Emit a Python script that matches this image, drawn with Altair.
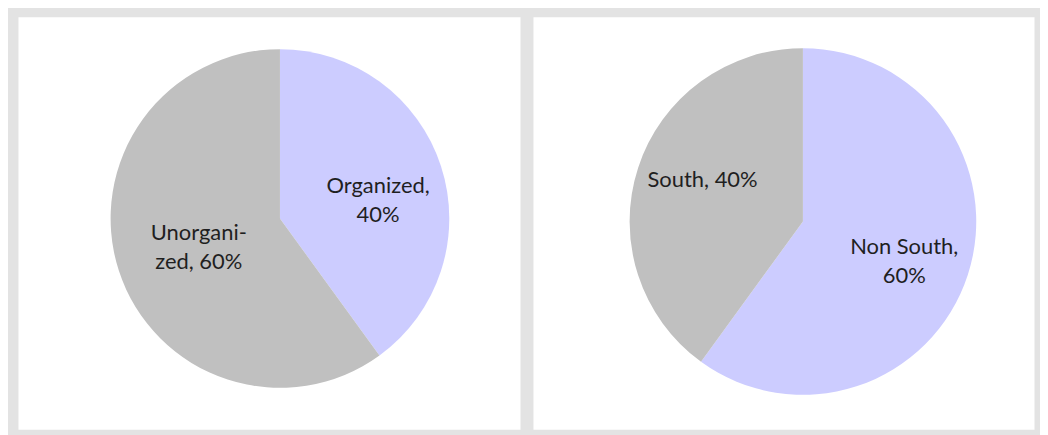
import altair as alt
import pandas as pd

# Left pie: organized vs unorganized
left_categories = ["Organized", "Unorganized"]
left_values = [40, 60]
left_labels = ["Organized,\n40%", "Unorgani-\nzed, 60%"]

# Right pie: non south vs south
right_categories = ["Non South", "South"]
right_values = [60, 40]
right_labels = ["Non South,\n60%", "South, 40%"]

LAV = "#ccccff"
GRAY = "#c0c0c0"

color_scale = alt.Scale(
    domain=["Organized", "Unorganized", "Non South", "South"],
    range=[LAV, GRAY, LAV, GRAY],
)

# per-label nudges (dx, dy) in pixels, relative to the slice mid-angle anchor
label_nudge = {
    "Organized": (11, -4),
    "Unorganized": (6, -14),
    "Non South": (-1, -8),
    "South": (2, -8),
}


def pie(categories, values, labels, cx, cy, r, label_r, w, h):
    df = pd.DataFrame({
        "category": categories,
        "value": values,
        "label": labels,
        "order": list(range(len(categories))),
    })
    base = alt.Chart(df).encode(
        theta=alt.Theta("value:Q", stack=True),
        order=alt.Order("order:Q"),
        x=alt.value(cx),
        y=alt.value(cy),
    )
    layers = [
        base.mark_arc(radius=r, stroke="transparent").encode(
            color=alt.Color("category:N", scale=color_scale, legend=None)
        )
    ]
    for cat in categories:
        dx, dy = label_nudge[cat]
        layers.append(
            base.mark_text(
                radius=label_r, dx=dx, dy=dy, font="Lato", fontSize=22,
                color="#1f1f1f", lineBreak="\n", lineHeight=29,
                align="center", baseline="middle",
            ).encode(
                text="label:N",
                opacity=alt.condition(
                    alt.datum.category == cat, alt.value(1), alt.value(0)
                ),
            )
        )
    return alt.layer(*layers).properties(width=w, height=h)


left = pie(left_categories, left_values, left_labels, 263, 202.5, 170, 92, 504, 414)
right = pie(right_categories, right_values, right_labels, 271, 205.5, 174, 108, 503, 414)

chart = alt.hconcat(left, right, spacing=11).properties(
    background="#e3e3e3",
    padding={"left": 9, "top": 7, "right": 5, "bottom": 6},
).configure_view(fill="white", stroke="transparent")

chart.save("out.html", embed_options={"renderer": "svg", "actions": False})
